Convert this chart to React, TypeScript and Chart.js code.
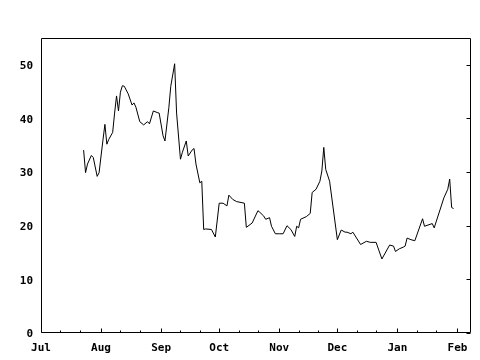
import React, { useEffect, useRef } from "react";
import { Chart, registerables } from "chart.js";

Chart.register(...registerables);

const seasonStart = "2003-07-01";

const dates = [
  "2003-07-23", "2003-07-24", "2003-07-25", "2003-07-27", "2003-07-28", "2003-07-30", "2003-07-31",
  "2003-08-01", "2003-08-02", "2003-08-03", "2003-08-04", "2003-08-05", "2003-08-07", "2003-08-08",
  "2003-08-09", "2003-08-10", "2003-08-11", "2003-08-12", "2003-08-13", "2003-08-15", "2003-08-17",
  "2003-08-18", "2003-08-19", "2003-08-21", "2003-08-23", "2003-08-25", "2003-08-26", "2003-08-28",
  "2003-08-30", "2003-08-31", "2003-09-02", "2003-09-03", "2003-09-05", "2003-09-06", "2003-09-08",
  "2003-09-09", "2003-09-11", "2003-09-12", "2003-09-14", "2003-09-15", "2003-09-17", "2003-09-18",
  "2003-09-19", "2003-09-21", "2003-09-22", "2003-09-23", "2003-09-24", "2003-09-27", "2003-09-29",
  "2003-10-01", "2003-10-03", "2003-10-05", "2003-10-06", "2003-10-08", "2003-10-10", "2003-10-14",
  "2003-10-15", "2003-10-18", "2003-10-21", "2003-10-22", "2003-10-24", "2003-10-25", "2003-10-27",
  "2003-10-28", "2003-10-30", "2003-11-01", "2003-11-03", "2003-11-05", "2003-11-07", "2003-11-09",
  "2003-11-10", "2003-11-11", "2003-11-12", "2003-11-15", "2003-11-17", "2003-11-18", "2003-11-20",
  "2003-11-22", "2003-11-23", "2003-11-24", "2003-11-25", "2003-11-27", "2003-12-01", "2003-12-03",
  "2003-12-05", "2003-12-06", "2003-12-08", "2003-12-09", "2003-12-13", "2003-12-16", "2003-12-18",
  "2003-12-21", "2003-12-24", "2003-12-28", "2003-12-30", "2003-12-31", "2004-01-02", "2004-01-04",
  "2004-01-05", "2004-01-06", "2004-01-08", "2004-01-10", "2004-01-14", "2004-01-15", "2004-01-19",
  "2004-01-20", "2004-01-25", "2004-01-27", "2004-01-28", "2004-01-29", "2004-01-30",
];

const values = [
  34.1, 29.9, 31.5, 33.1, 32.7, 29.2, 29.9,
  33.0, 36.0, 38.9, 35.2, 36.1, 37.4, 41.0,
  44.2, 41.4, 44.9, 46.1, 46.0, 44.6, 42.5,
  42.9, 42.1, 39.4, 38.8, 39.4, 39.0, 41.4,
  41.1, 41.0, 36.8, 35.8, 42.0, 46.0, 50.2,
  41.0, 32.4, 33.7, 35.8, 33.0, 34.1, 34.4,
  31.5, 28.0, 28.3, 19.3, 19.4, 19.3, 17.9,
  24.2, 24.2, 23.7, 25.7, 24.9, 24.5, 24.2,
  19.7, 20.5, 22.8, 22.5, 21.8, 21.2, 21.5,
  19.9, 18.5, 18.5, 18.5, 20.0, 19.3, 18.0,
  19.9, 19.6, 21.2, 21.7, 22.3, 26.2, 26.8,
  28.3, 30.2, 34.6, 30.5, 28.3, 17.4, 19.2,
  18.8, 18.8, 18.5, 18.8, 16.5, 17.1, 16.9,
  16.9, 13.8, 16.4, 16.2, 15.2, 15.7, 16.0,
  16.2, 17.7, 17.4, 17.2, 21.3, 19.9, 20.4,
  19.6, 25.2, 26.8, 28.7, 23.4, 23.2,
];

const monthStarts = [
  "2003-07-01", "2003-08-01", "2003-09-01", "2003-10-01",
  "2003-11-01", "2003-12-01", "2004-01-01", "2004-02-01",
];
const monthLabels = ["Jul", "Aug", "Sep", "Oct", "Nov", "Dec", "Jan", "Feb"];
const xEnd = "2004-02-08";
const yTicks = [0, 10, 20, 30, 40, 50];
const yMax = 55;

function dayOf(iso: string): number {
  const [y, m, d] = iso.split("-").map(Number);
  const [y0, m0, d0] = seasonStart.split("-").map(Number);
  return Math.round((Date.UTC(y, m - 1, d) - Date.UTC(y0, m0 - 1, d0)) / 86400000);
}

const framePlugin = {
  id: "frame",
  afterDraw(chart: any) {
    const { ctx, chartArea: a, scales } = chart;
    const L = Math.round(a.left) + 0.5;
    const R = Math.round(a.right) - 0.5;
    const T = Math.round(a.top) + 0.5;
    const B = Math.round(a.bottom) - 0.5;
    ctx.save();
    ctx.strokeStyle = "#000";
    ctx.lineWidth = 1;
    ctx.beginPath();
    ctx.rect(L, T, R - L, B - T);
    monthStarts.forEach((m) => {
      const d = dayOf(m);
      const x = Math.round(scales.x.getPixelForValue(d)) + 0.5;
      ctx.moveTo(x, B);
      ctx.lineTo(x, B - 4);
      [10, 20].forEach((o) => {
        const dv = d + o;
        if (dv < scales.x.max) {
          const xm = Math.round(scales.x.getPixelForValue(dv)) + 0.5;
          ctx.moveTo(xm, B);
          ctx.lineTo(xm, B - 2);
        }
      });
    });
    yTicks.forEach((v) => {
      const y = Math.round(scales.y.getPixelForValue(v)) + 0.5;
      ctx.moveTo(R, y);
      ctx.lineTo(R - 4, y);
    });
    ctx.stroke();
    ctx.restore();
  },
};

export default function App() {
  const ref = useRef<HTMLCanvasElement>(null);
  useEffect(() => {
    document.body.style.margin = "0";
    const font = { family: "'DejaVu Sans Mono', monospace", size: 11, weight: "bold" as const };
    const chart = new Chart(ref.current!, {
      type: "line",
      data: {
        datasets: [
          {
            data: dates.map((d, i) => ({ x: dayOf(d), y: values[i] })),
            borderColor: "#000",
            borderWidth: 1,
            pointRadius: 0,
            tension: 0,
            fill: false,
          },
        ],
      },
      options: {
        responsive: false,
        animation: false,
        devicePixelRatio: 1,
        layout: { padding: { top: 38, right: 9, left: 0, bottom: 0 } },
        plugins: { legend: { display: false }, tooltip: { enabled: false } },
        scales: {
          x: {
            type: "linear",
            min: 0,
            max: dayOf(xEnd),
            grid: { display: false, drawTicks: false },
            border: { display: false },
            afterBuildTicks: (axis: any) => {
              axis.ticks = monthStarts.map((m) => ({ value: dayOf(m) }));
            },
            afterFit: (s: any) => {
              s.height = 27;
              s.paddingLeft = 0;
              s.paddingRight = 0;
            },
            ticks: {
              autoSkip: false,
              maxRotation: 0,
              color: "#000",
              font,
              padding: 9,
              callback: (_v: any, i: number) => monthLabels[i],
            },
          },
          y: {
            type: "linear",
            min: 0,
            max: yMax,
            grid: { display: false, drawTicks: false },
            border: { display: false },
            afterBuildTicks: (axis: any) => {
              axis.ticks = yTicks.map((v) => ({ value: v }));
            },
            afterFit: (s: any) => {
              s.width = 41;
              s.paddingTop = 0;
              s.paddingBottom = 0;
            },
            ticks: { color: "#000", font, padding: 8, labelOffset: 1.5 },
          },
        },
      },
      plugins: [framePlugin],
    });
    return () => chart.destroy();
  }, []);
  return (
    <div style={{ position: "fixed", left: 0, top: 0, width: 480, height: 360, background: "#fff" }}>
      <canvas ref={ref} width={480} height={360} />
    </div>
  );
}
